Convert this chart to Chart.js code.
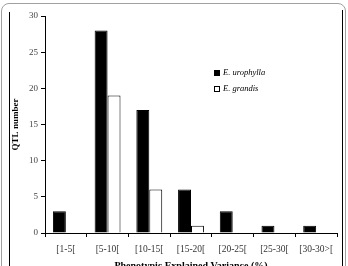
<!DOCTYPE html>
<html>
<head>
<meta charset="utf-8">
<script src="https://cdn.jsdelivr.net/npm/chart.js@4"></script>
<style>
  body { margin: 0; background: #fff; }
  #wrap { position: relative; width: 348px; height: 266px; overflow: hidden; }
  #frame { position: absolute; left: 1px; top: 3px; width: 343px; height: 290px;
           border: 1px solid #a0a0a0; border-radius: 8px; }
  .edge { position: absolute; width: 1px; background: #000; bottom: 0; }
  canvas { position: absolute; left: 0; top: 0; }
</style>
</head>
<body>
<div id="wrap">
  <div id="frame"></div>
  <div class="edge" style="left:9px; top:12px;"></div>
  <div class="edge" style="left:342px; top:10px;"></div>
  <canvas id="chart" width="348" height="272"></canvas>
</div>
<script>
const classes = ['[1-5[', '[5-10[', '[10-15[', '[15-20[', '[20-25[', '[25-30[', '[30-30>['];
const urophylla = [3, 28, 17, 6, 3, 1, 1];
const grandis = [0, 19, 6, 1, 0, 0, 0];
const yTicks = [0, 5, 10, 15, 20, 25, 30];

const serif = '"Liberation Serif", "Times New Roman", serif';

// legend drawn inside the plot, like the original
const innerLegend = {
  id: 'innerLegend',
  afterDraw(chart) {
    const ctx = chart.ctx;
    ctx.save();
    ctx.font = 'italic 8.5px ' + serif;
    ctx.textBaseline = 'middle';
    chart.data.datasets.forEach((ds, i) => {
      const y = 73 + i * 16;
      ctx.fillStyle = ds.backgroundColor;
      ctx.fillRect(214.5, y - 2.5, 5, 5);
      ctx.strokeStyle = '#000';
      ctx.lineWidth = 1;
      ctx.strokeRect(214.5, y - 2.5, 5, 5);
      ctx.fillStyle = '#000';
      ctx.fillText(ds.label, 223, y);
    });
    ctx.restore();
  }
};

new Chart(document.getElementById('chart'), {
  type: 'bar',
  data: {
    labels: classes,
    datasets: [
      { label: 'E. urophylla', data: urophylla, backgroundColor: '#000', borderColor: '#000', borderWidth: 1 },
      { label: 'E. grandis', data: grandis, backgroundColor: '#fff', borderColor: '#000', borderWidth: 1 }
    ]
  },
  options: {
    responsive: false,
    animation: false,
    layout: { padding: { left: 0, top: 16, right: 11, bottom: 0 } },
    datasets: { bar: { categoryPercentage: 0.62, barPercentage: 1 } },
    plugins: { legend: { display: false }, tooltip: { enabled: false } },
    scales: {
      x: {
        grid: { drawOnChartArea: false, color: '#000', tickLength: 4, offset: true },
        border: { color: '#000' },
        ticks: { font: { family: serif, size: 9.5 }, color: '#333', padding: 7, maxRotation: 0, autoSkip: false },
        title: { display: true, text: 'Phenotypic Explained Variance (%)', font: { family: serif, size: 10, weight: 'bold' }, color: '#000', padding: { top: 0, bottom: 0 } },
        afterFit(s) { s.height = 39; }
      },
      y: {
        min: 0, max: 30,
        afterBuildTicks(s) { s.ticks = yTicks.map(v => ({ value: v })); },
        grid: { drawOnChartArea: false, color: '#000', tickLength: 4 },
        border: { color: '#000' },
        ticks: { font: { family: serif, size: 9 }, color: '#444', padding: 3 },
        title: { display: true, text: 'QTL number', font: { family: serif, size: 9, weight: 'bold' }, color: '#000', padding: { top: 10, bottom: 0 } },
        afterFit(s) { s.width = 45; }
      }
    }
  },
  plugins: [innerLegend]
});
</script>
</body>
</html>
